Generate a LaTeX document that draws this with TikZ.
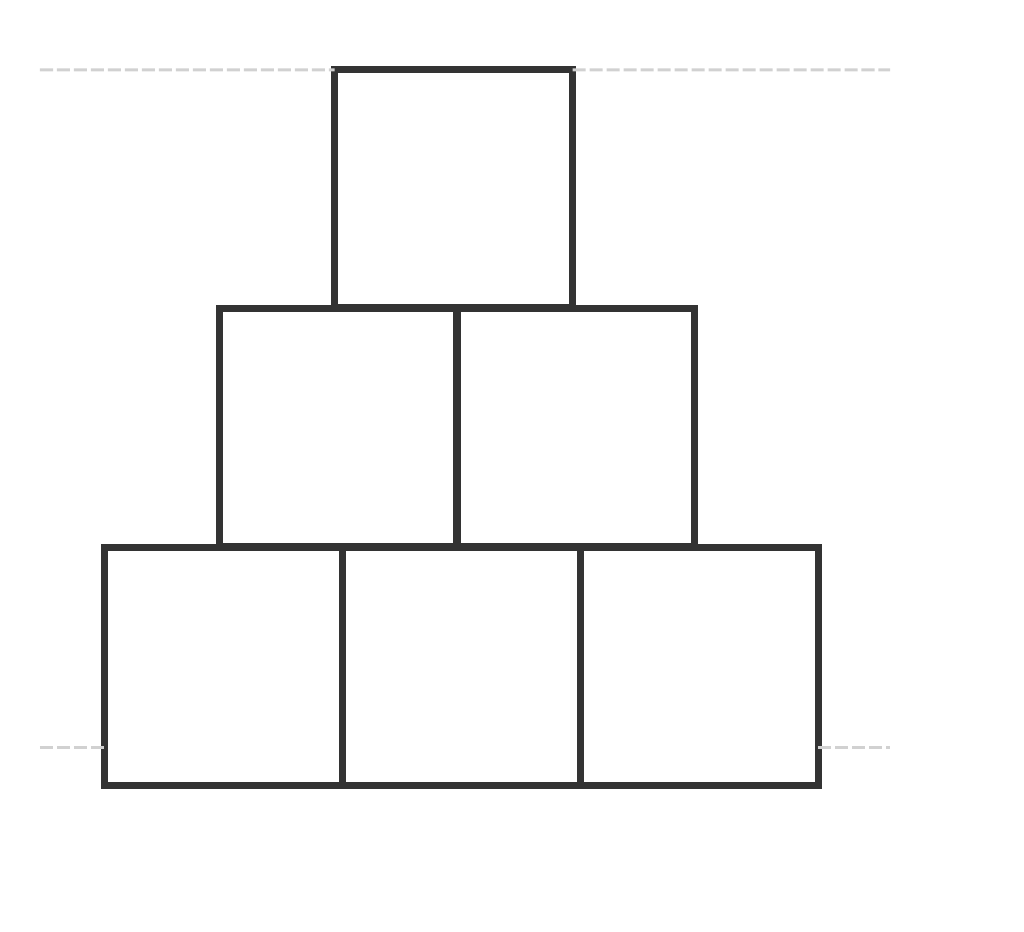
\documentclass[tikz,border=0pt]{standalone}
\usepackage{tikz}
\tikzset{
	block/.style={
		shape = rectangle,
		minimum size = 2.38cm,
		inner sep = 0,
		outer sep = 0,
		draw = black!80,
		line width = 0.07cm
	},
	guide/.style={
		draw = black!18,
		line width = 0.03cm,
		dash pattern = on 0.13cm off 0.04cm
	},
}

\begin{document}
\begin{tikzpicture}
    \useasboundingbox (0,0) rectangle (10.24,9.32);
    % bottom row
    \foreach \i/\x in {1/2.235, 2/4.61, 3/6.99}{
      \node[block] (b\i) at (\x,2.65) {};
    }
    % middle row
    \foreach \i/\x in {1/3.385, 2/5.755}{
      \node[block] (m\i) at (\x,5.04) {};
    }
    \node[block] (t) at (4.535,7.43) {};
    \coordinate (tl) at (0.4,8.62);
    \coordinate (tr) at (8.9,8.62);
    \coordinate (bl) at (0.4,1.84);
    \coordinate (br) at (8.9,1.84);
    \draw[guide] (tl) -- (t.north west);
    \draw[guide] (t.north east) -- (tr);
    \draw[guide] (bl) -- (b1.west |- bl);
    \draw[guide] (b3.east |- br) -- (br);
\end{tikzpicture}
\end{document}
